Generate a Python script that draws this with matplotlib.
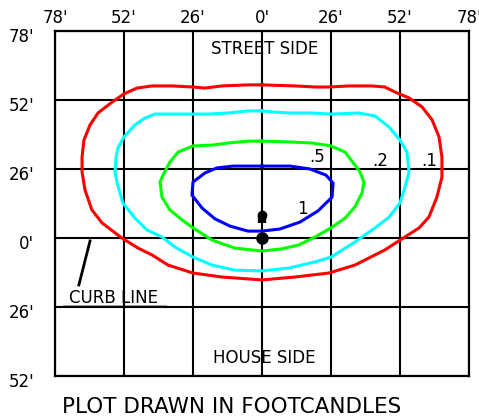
import numpy as np
import matplotlib
matplotlib.use('Agg')
import matplotlib.pyplot as plt
import matplotlib.transforms as mtrans

# 等照度曲线 (feet), 顺时针, 从正上方开始
x_01 = [0, -5.3, -15.1, -21.5, -26.0, -33.9, -41.4, -47.1, -52.0, -56.5, -61.8, -64.8, -67.1, -67.8, -67.8,
        -66.7, -64.1, -60.3, -52.8, -46.7, -41.4, -35.4, -26.0, -15.1, 0, 12.4, 25.2, 35.0, 46.3, 52.0,
        59.2, 62.9, 65.9, 67.8, 67.8, 66.7, 64.1, 60.3, 55.4, 50.1, 46.3, 41.4, 32.8, 25.2, 20.0, 12.4]
y_01 = [57.7, 57.7, 57.3, 56.5, 56.9, 57.3, 57.3, 56.5, 54.3, 51.2, 47.1, 42.6, 36.9, 30.5, 24.9,
        18.1, 10.6, 5.7, 0, -3.8, -6.4, -10.2, -13.2, -14.7, -15.8, -14.7, -13.2, -10.2, -4.5, -0.8,
        3.8, 7.9, 15.4, 23.0, 30.5, 38.1, 44.5, 49.4, 52.8, 55.0, 56.9, 57.3, 57.3, 56.9, 56.9, 57.3]

x_02 = [0, -5.3, -12.8, -20.3, -26.0, -33.9, -40.3, -44.1, -47.9, -52.0, -54.3, -55.0, -55.4, -54.6,
        -52.4, -47.9, -43.3, -37.7, -32.8, -26.0, -18.8, -10.2, 0, 10.2, 20.0, 26.0, 35.0, 42.6, 47.9,
        52.0, 53.9, 55.4, 54.6, 52.0, 47.9, 42.6, 36.5, 26.0, 18.8, 10.2, 3.8]
y_02 = [47.9, 47.9, 47.1, 46.7, 46.7, 46.7, 46.7, 45.2, 42.6, 38.1, 33.9, 30.5, 24.9, 20.7,
        13.2, 7.5, 3.0, 0.4, -3.4, -7.2, -10.2, -12.1, -12.4, -11.3, -9.0, -7.2, -1.5, 3.8, 7.9,
        13.2, 19.2, 24.9, 32.4, 36.9, 41.8, 46.0, 47.1, 46.7, 47.1, 47.1, 47.5]

x_05 = [0, -5.3, -12.8, -18.8, -26.0, -31.6, -34.7, -37.3, -38.4, -37.7, -34.7, -30.1, -26.0, -18.8,
        -10.2, 0, 7.5, 13.9, 20.0, 26.0, 31.3, 35.0, 37.7, 38.4, 36.9, 35.0, 31.3, 26.0, 18.8, 10.2]
y_05 = [36.5, 36.5, 35.8, 35.0, 34.7, 32.4, 28.6, 23.7, 21.1, 15.4, 10.6, 6.8, 3.8, -0.8,
        -3.8, -4.9, -4.1, -2.6, 0.4, 3.8, 7.5, 11.7, 17.0, 21.1, 24.9, 27.5, 32.4, 34.7, 35.8, 36.2]

x_1 = [0, -10.9, -17.0, -21.5, -26.0, -26.4, -22.6, -17.7, -12.1, -5.3, 0, 6.8, 14.3, 21.1, 26.4,
       26.8, 24.1, 18.1, 10.6]
y_1 = [27.1, 27.1, 26.4, 24.5, 21.1, 16.2, 11.3, 7.2, 4.5, 2.6, 2.6, 3.4, 6.0, 10.2, 15.4,
       20.7, 23.7, 26.0, 27.1]

levels = ['.1', '.2', '.5', '1']
colors = ['#ff0000', '#00ffff', '#00ff00', '#0000ff']
label_x = [62.9, 44.5, 20.7, 15.1]
label_y = [29.0, 29.0, 30.5, 10.9]

xticks = [-78, -52, -26, 0, 26, 52, 78]
xtick_labels = ["78'", "52'", "26'", "0'", "26'", "52'", "78'"]
yticks = [78, 52, 26, 0, -26, -52]
ytick_labels = ["78'", "52'", "26'", "0'", "26'", "52'"]

fig = plt.figure(figsize=(4.79, 4.18), dpi=100)
ax = fig.add_axes([55/479, 42/418, 414/479, 345/418])
ax.set_xlim(-78, 78)
ax.set_ylim(-52, 78)

ax.set_xticks(xticks)
ax.set_xticklabels(xtick_labels)
ax.set_yticks(yticks)
ax.set_yticklabels(ytick_labels)
ax.xaxis.tick_top()
ax.tick_params(axis='x', length=0, pad=3, labelsize=12)
ax.tick_params(axis='y', length=0, pad=15, labelsize=12)
off = mtrans.ScaledTranslation(0, -4/100, fig.dpi_scale_trans)
for lab in ax.get_yticklabels():
    lab.set_transform(lab.get_transform() + off)

ax.grid(True, color='k', lw=1.5)
for s in ax.spines.values():
    s.set_linewidth(1.6)
    s.set_color('k')
ax.set_axisbelow(False)

for xs, ys, c in zip([x_01, x_02, x_05, x_1], [y_01, y_02, y_05, y_1], colors):
    ax.plot(xs + xs[:1], ys + ys[:1], color=c, lw=2.2, zorder=3)
for t, lx, ly in zip(levels, label_x, label_y):
    ax.text(lx, ly, t, fontsize=12, ha='center', va='center', zorder=4)

# 灯杆和灯具
ax.plot([0, 0], [5.6, 8.6], color='k', lw=6, solid_capstyle='butt', zorder=5)
ax.plot([0], [8.6], 'o', color='k', ms=6, zorder=5)
ax.plot([0], [0], 'o', color='k', ms=8, zorder=5)

ax.text(1, 71.2, 'STREET SIDE', fontsize=12, ha='center', va='center')
ax.text(0.8, -45.2, 'HOUSE SIDE', fontsize=12, ha='center', va='center')

# 路缘线
ax.plot([-64.8, -69.0], [-1.1, -17.7], color='k', lw=2, zorder=4)
ax.plot([-75, -36], [-25.2, -25.2], color='#aaaaaa', lw=0.8, zorder=2)
ax.text(-55.8, -22.6, 'CURB LINE', fontsize=12, ha='center', va='center', zorder=4)

fig.text(232/479, 0.026, 'PLOT DRAWN IN FOOTCANDLES', fontsize=15.5, ha='center', va='center')

fig.savefig('out.png', dpi=100)
